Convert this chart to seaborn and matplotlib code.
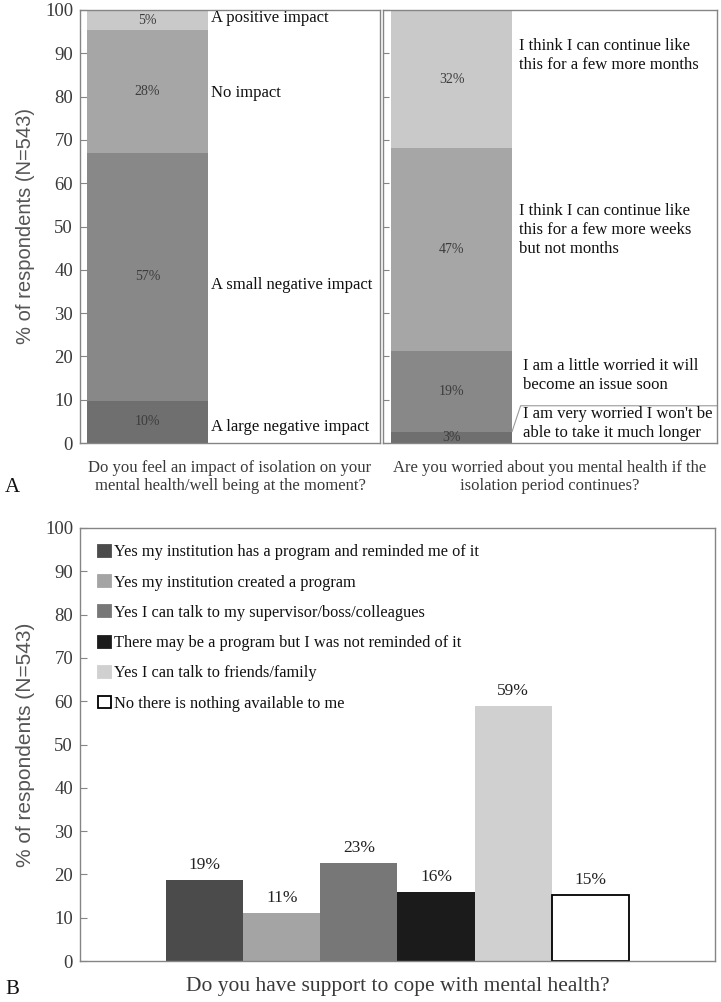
import matplotlib
matplotlib.use("Agg")
import matplotlib.pyplot as plt
import seaborn as sns
import pandas as pd
import numpy as np
from matplotlib.patches import Patch

# ---------------- data ----------------
q1_title = "Do you feel an impact of isolation on your\nmental health/well being at the moment?"
q1_cats = ["A large negative impact", "A small negative impact", "No impact", "A positive impact"]
q1_vals = [9.8, 57.2, 28.3, 4.7]

q2_title = "Are you worried about you mental health if the\nisolation period continues?"
q2_cats = ["I am very worried I won't be\nable to take it much longer",
           "I am a little worried it will\nbecome an issue soon",
           "I think I can continue like\nthis for a few more weeks\nbut not months",
           "I think I can continue like\nthis for a few more months"]
q2_vals = [2.6, 18.7, 46.8, 31.9]

q3_title = "Do you have support to cope with mental health?"
q3_cats = ["Yes my institution has a program and reminded me of it",
           "Yes my institution created a program",
           "Yes I can talk to my supervisor/boss/colleagues",
           "There may be a program but I was not reminded of it",
           "Yes I can talk to friends/family",
           "No there is nothing available to me"]
q3_vals = [18.8, 11.1, 22.6, 15.9, 58.8, 15.3]

ylabel = "% of respondents (N=543)"
yticks = list(range(0, 101, 10))

# ---------------- style ----------------
stack_colors = ["#6f6f6f", "#888888", "#a6a6a6", "#c9c9c9"]
bar_colors = ["#4b4b4b", "#a4a4a4", "#777777", "#1b1b1b", "#d0d0d0", "#ffffff"]
spine_col = "#858585"
txt_grey = "#3a3a3a"

sns.set_style("white")
plt.rcParams["font.family"] = ["Liberation Serif", "DejaVu Serif"]

W, H = 721, 1002
fig = plt.figure(figsize=(W / 100, H / 100), dpi=100)


def fax(x0, y0, x1, y1):
    return fig.add_axes([x0 / W, 1 - y1 / H, (x1 - x0) / W, (y1 - y0) / H])


def style_axes(ax, labels=True):
    ax.set_ylim(0, 100)
    ax.set_yticks(yticks)
    ax.tick_params(axis="y", direction="in", length=5, color=spine_col,
                   labelsize=13.5, labelcolor=txt_grey, pad=5, labelleft=labels, left=True)
    ax.tick_params(axis="x", length=0, bottom=False, labelbottom=False)
    for s in ax.spines.values():
        s.set_visible(True)
        s.set_color(spine_col)
        s.set_linewidth(1.0)
    ax.set_xlabel("")
    ax.set_ylabel("")


def stacked(ax, vals, bar_px, ax_px, left_px):
    cum = np.cumsum(vals)
    # overdraw from the tallest cumulative bar down
    for i in range(len(vals) - 1, -1, -1):
        sns.barplot(x=["q"], y=[cum[i]], color=stack_colors[i], width=0.4,
                    saturation=1, ax=ax, linewidth=0)
    span = 0.4 * ax_px / bar_px
    a = -0.2 - left_px / ax_px * span
    ax.set_xlim(a, a + span)
    bottoms = cum - np.array(vals)
    for v, b in zip(vals, bottoms):
        ax.text(0, b + v / 2, f"{round(v)}%", ha="center", va="center",
                fontsize=10, color="#3c3c3c", clip_on=True)
    return cum, bottoms


# ---------------- panel A left ----------------
axA1 = fax(80, 10, 380, 443)
cum1, bot1 = stacked(axA1, q1_vals, 121, 300, 7)
style_axes(axA1)
label_off1 = [-1.1, -1.9, -0.3, 0.4]
for c, v, b, o in zip(q1_cats, q1_vals, bot1, label_off1):
    axA1.text(0.437, b + v / 2 + o, c, transform=axA1.get_yaxis_transform(),
              ha="left", va="center", fontsize=12, color="#111111")
axA1.set_ylabel(ylabel, family=["Liberation Sans", "DejaVu Sans"], fontsize=14.5,
                color="#555555", labelpad=7)
axA1.text(0.5, -0.04, q1_title, transform=axA1.transAxes, ha="center", va="top",
          fontsize=12, color=txt_grey, linespacing=1.15)

# ---------------- panel A right ----------------
axA2 = fax(383, 10, 717, 443)
cum2, bot2 = stacked(axA2, q2_vals, 121, 334, 8)
style_axes(axA2, labels=False)
axA2.tick_params(axis="y", length=4)
label_y2 = [4.4, 15.6, 49.2, 89.5]
label_x2 = [0.418, 0.418, 0.407, 0.407]
for c, y, x in zip(q2_cats, label_y2, label_x2):
    axA2.text(x, y, c, transform=axA2.get_yaxis_transform(), ha="left", va="center",
              fontsize=12, color="#111111", linespacing=1.25)
# leader line for the smallest segment
bar_right = 0.2
xr = axA2.get_xlim()
fx = (bar_right - xr[0]) / (xr[1] - xr[0])
axA2.plot([fx, 0.412, 1.0], [q2_vals[0], 8.6, 8.6], color="#9a9a9a", lw=0.8,
          transform=axA2.get_yaxis_transform(), clip_on=False)
axA2.text(0.5, -0.04, q2_title, transform=axA2.transAxes, ha="center", va="top",
          fontsize=12, color=txt_grey, linespacing=1.15)

fig.text(12 / W, 1 - 488 / H, "A", ha="center", va="center", fontsize=15, color="#111111")

# ---------------- panel B ----------------
axB = fax(80, 528, 715, 961)
df = pd.DataFrame({"q": [q3_title] * len(q3_cats), "cat": q3_cats, "val": q3_vals})
sns.barplot(data=df, x="q", y="val", hue="cat", hue_order=q3_cats,
            palette=bar_colors, width=0.8, saturation=1, ax=axB, legend=False,
            linewidth=0)
span = 0.8 * 635 / 463
aB = -0.4 - 86 / 635 * span
axB.set_xlim(aB, aB + span)
style_axes(axB)
for i, cont in enumerate(axB.containers):
    for p in cont:
        if i == len(q3_cats) - 1:
            p.set_edgecolor("#000000")
            p.set_linewidth(1.3)
        else:
            p.set_edgecolor(bar_colors[i])
    axB.bar_label(cont, labels=[f"{round(q3_vals[i])}%"], padding=5,
                  fontsize=12.5, color="#222222")

handles = [Patch(facecolor=c, edgecolor=("#000000" if c == "#ffffff" else c), linewidth=1.3)
           for c in bar_colors]
leg = axB.legend(handles, q3_cats, loc="upper left", bbox_to_anchor=(0.028, 0.962),
                 frameon=False, fontsize=11.8, handlelength=0.8, handleheight=0.75,
                 handletextpad=0.2, labelspacing=0.87, borderpad=0, borderaxespad=0)
for t in leg.get_texts():
    t.set_color("#111111")

axB.set_ylabel(ylabel, family=["Liberation Sans", "DejaVu Sans"], fontsize=15,
               color="#555555", labelpad=7)
axB.text(0.5, -0.06, q3_title, transform=axB.transAxes, ha="center", va="center",
         fontsize=15.5, color=txt_grey)
fig.text(12 / W, 1 - 990 / H, "B", ha="center", va="center", fontsize=15, color="#111111")

fig.savefig("out.png", dpi=100)
